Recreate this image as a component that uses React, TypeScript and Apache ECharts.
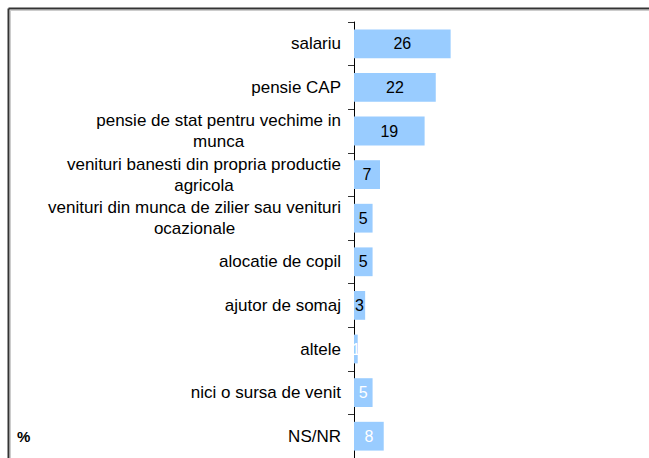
import React, { useEffect, useRef } from "react";
import * as echarts from "echarts";

const categories: string[] = [
  "salariu",
  "pensie CAP",
  "pensie de stat pentru vechime in\nmunca",
  "venituri banesti din propria productie\nagricola",
  "venituri din munca de zilier sau venituri\nocazionale",
  "alocatie de copil",
  "ajutor de somaj",
  "altele",
  "nici o sursa de venit",
  "NS/NR",
];

const values: number[] = [26, 22, 19, 7, 5, 5, 3, 1, 5, 8];

const unitLabel = "%";

const WHITE_LABEL_FROM = 7;

export default function App() {
  const ref = useRef<HTMLDivElement>(null);

  useEffect(() => {
    if (!ref.current) return;
    const chart = echarts.init(ref.current, null, { renderer: "svg" });
    const font = "'Liberation Sans', Arial, sans-serif";
    chart.setOption({
      animation: false,
      backgroundColor: "#ffffff",
      grid: { left: 354, top: 22, height: 437, width: 223, containLabel: false },
      xAxis: {
        type: "value",
        min: 0,
        max: 60,
        show: false,
      },
      yAxis: {
        type: "category",
        inverse: true,
        data: categories,
        axisLine: { show: true, lineStyle: { color: "#000000", width: 1 } },
        axisTick: { show: true, length: 6, lineStyle: { color: "#333333", width: 1 } },
        axisLabel: {
          margin: 13,
          color: "#000000",
          fontFamily: font,
          fontSize: 17,
          lineHeight: 21,
          formatter: (v: string) =>
            v
              .split("\n")
              .map((l) => `{c|${l}}`)
              .join("\n"),
          rich: {
            c: {
              align: "center",
              fontFamily: font,
              fontSize: 17,
              lineHeight: 21,
              color: "#000000",
            },
          },
        },
        splitLine: { show: false },
      },
      series: [
        {
          type: "bar",
          barCategoryGap: "34%",
          itemStyle: { color: "#99ccff" },
          data: values.map((v, i) => ({
            value: v,
            label: { color: i >= WHITE_LABEL_FROM ? "#ffffff" : "#000000" },
          })),
          label: {
            show: true,
            position: "inside",
            fontFamily: font,
            fontSize: 16,
          },
        },
      ],
      graphic: [
        {
          type: "line",
          shape: { x1: 8.5, y1: 8.5, x2: 649, y2: 8.5 },
          style: { stroke: "#333333", lineWidth: 2 },
        },
        {
          type: "line",
          shape: { x1: 8.5, y1: 8.5, x2: 8.5, y2: 458 },
          style: { stroke: "#333333", lineWidth: 2 },
        },
        {
          type: "line",
          shape: { x1: 10, y1: 10.5, x2: 649, y2: 10.5 },
          style: { stroke: "#cccccc", lineWidth: 1 },
        },
        {
          type: "line",
          shape: { x1: 10.5, y1: 10, x2: 10.5, y2: 458 },
          style: { stroke: "#cccccc", lineWidth: 1 },
        },
        {
          type: "text",
          left: 17,
          top: 429,
          style: {
            text: unitLabel,
            fill: "#000000",
            font: `bold 15px ${font}`,
          },
        },
      ],
    });
    return () => chart.dispose();
  }, []);

  return (
    <div
      ref={ref}
      style={{ position: "absolute", left: 0, top: 0, width: 649, height: 458 }}
    />
  );
}
